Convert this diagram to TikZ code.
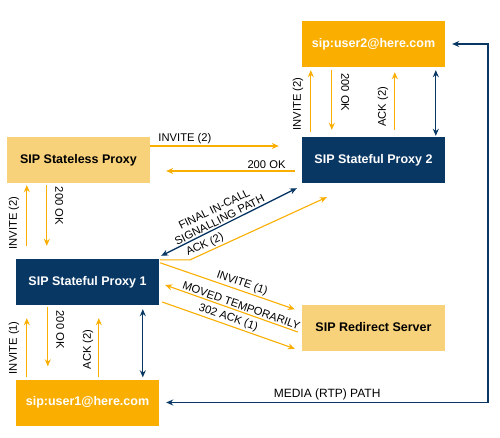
\documentclass[tikz,border=0pt]{standalone}
\usepackage{fontspec}
\setmainfont{Liberation Sans}
\usetikzlibrary{arrows.meta, positioning}
\definecolor{sipnavy}{RGB}{9,55,100}
\definecolor{sipamber}{RGB}{249,174,0}
\definecolor{siplight}{RGB}{248,210,122}

\begin{document}
\begin{tikzpicture}[x=1pt, y=-1pt,
        box/.style={rectangle, minimum width=143pt, minimum height=46pt, inner sep=0pt, font=\bfseries\fontsize{12.5}{14}\selectfont},
        userbox/.style={box, fill=sipamber, text=white},
        proxybox/.style={box, fill=sipnavy, text=white},
        plainbox/.style={box, fill=siplight, text=black},
        msg/.style={draw=sipamber, line width=1.1pt, -{Stealth[length=7pt, width=6pt]}},
        sig/.style={draw=sipnavy, line width=1.3pt, {Stealth[length=7pt, width=6pt]}-{Stealth[length=7pt, width=6pt]}},
        lbl/.style={font=\fontsize{11.2}{12.5}\selectfont, inner sep=1.5pt},
        vlbl/.style={lbl, above, outer sep=#1},
        vlbl/.default=6pt
    ]
        \useasboundingbox (0,0) rectangle (500,438);

        % Nodos
        \node[userbox] (user2) at (373.5,44) {sip:user2@here.com};
        \node[proxybox] (proxy2) at (373.5,160) {SIP Stateful Proxy 2};
        \node[plainbox] (stateless) at (78.5,160) {SIP Stateless Proxy};
        \node[proxybox] (proxy1) at (87.5,282) {SIP Stateful Proxy 1};
        \node[plainbox] (redirect) at (373.5,327.5) {SIP Redirect Server};
        \node[userbox] (user1) at (87.5,402.5) {sip:user1@here.com};
        \coordinate (mediacorner) at (488,0);

        % Stateless proxy <-> proxy 2
        \draw[msg] ([yshift=14pt]stateless.east) -- node[lbl, pos=0.27, above] {INVITE (2)} ([xshift=-23pt, yshift=14pt]proxy2.west);
        \draw[msg] ([xshift=-7pt, yshift=-11pt]proxy2.west) -- node[lbl, pos=0.22, above] {200 OK} ([xshift=16pt, yshift=-11pt]stateless.east);

        % Stateless proxy <-> proxy 1
        \draw[msg] ([xshift=11pt, yshift=13pt]proxy1.north west) -- node[pos=0.38, rotate=90, vlbl] {INVITE (2)} ([xshift=20pt, yshift=-2pt]stateless.south west);
        \draw[msg] ([xshift=40pt, yshift=-2pt]stateless.south west) -- node[pos=0.34, rotate=-90, vlbl=7pt] {200 OK} ([xshift=31pt, yshift=13pt]proxy1.north west);

        % user2 <-> proxy 2
        \draw[msg] ([xshift=9pt, yshift=5pt]proxy2.north west) -- node[pos=0.45, rotate=90, vlbl] {INVITE (2)} ([xshift=9pt, yshift=-3pt]user2.south west);
        \draw[msg] ([xshift=30pt, yshift=-3pt]user2.south west) -- node[pos=0.37, rotate=-90, vlbl=8pt] {200 OK} ([xshift=30pt, yshift=7pt]proxy2.north west);
        \draw[msg] ([xshift=93pt, yshift=7pt]proxy2.north west) -- node[pos=0.4, rotate=90, vlbl=5pt] {ACK (2)} ([xshift=93pt, yshift=-5pt]user2.south west);
        \draw[sig] ([xshift=134pt, yshift=-3pt]user2.south west) -- ([xshift=134pt, yshift=1pt]proxy2.north west);

        % proxy 1 <-> user1
        \draw[msg] ([xshift=11pt, yshift=2pt]user1.north west) -- node[pos=0.5, rotate=90, vlbl] {INVITE (1)} ([xshift=11pt, yshift=-13pt]proxy1.south west);
        \draw[msg] ([xshift=32pt, yshift=-2pt]proxy1.south west) -- node[pos=0.38, rotate=-90, vlbl=7pt] {200 OK} ([xshift=32pt, yshift=13pt]user1.north west);
        \draw[msg] ([xshift=83pt, yshift=2pt]user1.north west) -- node[pos=0.47, rotate=90, vlbl=4pt] {ACK (2)} ([xshift=83pt, yshift=-13pt]proxy1.south west);
        \draw[sig] ([xshift=127pt, yshift=-4pt]proxy1.south west) -- ([xshift=127pt, yshift=2pt]user1.north west);

        % proxy 1 <-> proxy 2
        \draw[sig] ([xshift=2pt, yshift=3pt]proxy1.north east) -- node[lbl, pos=0.45, above, sloped, align=center, font=\fontsize{11.2}{12}\selectfont] {FINAL IN-CALL\\SIGNALLING PATH} ([xshift=-5pt, yshift=-5pt]proxy2.south west);
        \draw[msg] ([xshift=1pt, yshift=-1pt]proxy1.north east) -- ++(30,0) -- node[lbl, pos=0.13, above, sloped] {ACK (2)} ([xshift=25pt, yshift=-14pt]proxy2.south west);

        % proxy 1 <-> redirect server
        \draw[msg] ([xshift=1pt, yshift=-4pt]proxy1.north east) -- node[lbl, pos=0.59, above, sloped] {INVITE (1)} ([xshift=-7pt, yshift=-5pt]redirect.north west);
        \draw[msg, {Stealth[length=7pt, width=6pt]}-] ([xshift=6pt, yshift=-3pt]proxy1.east) -- node[lbl, pos=0.56, above, sloped] {MOVED TEMPORARILY} ([xshift=-4pt, yshift=-4.5pt]redirect.west);
        \draw[msg] ([xshift=3pt, yshift=-20pt]proxy1.east) -- node[lbl, pos=0.48, above, sloped] {302 ACK (1)} ([xshift=-7pt, yshift=2pt]redirect.south west);

        % media path
        \draw[sig] ([xshift=7pt]user1.east) -- node[lbl, midway, above, font=\fontsize{12}{14}\selectfont] {MEDIA (RTP) PATH} (user1.east -| mediacorner) -- (user2.east -| mediacorner) -- ([xshift=7pt]user2.east);
    \end{tikzpicture}
\end{document}
